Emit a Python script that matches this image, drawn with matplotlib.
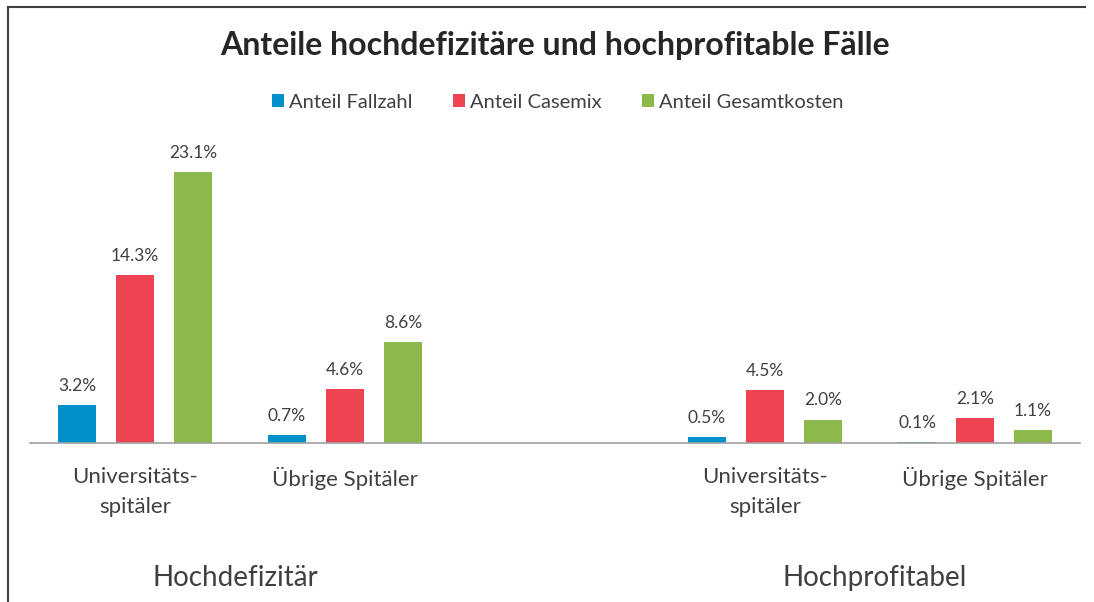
import matplotlib.pyplot as plt
import numpy as np

plt.rcParams['font.family'] = ['Lato', 'DejaVu Sans']

# data
categories = ["Universitäts-\nspitäler", "Übrige Spitäler", "", "Universitäts-\nspitäler", "Übrige Spitäler"]
groups = ["Hochdefizitär", "Hochprofitabel"]
series = ["Anteil Fallzahl", "Anteil Casemix", "Anteil Gesamtkosten"]
fallzahl = [3.2, 0.7, np.nan, 0.5, 0.1]
casemix = [14.3, 4.6, np.nan, 4.5, 2.1]
gesamtkosten = [23.1, 8.6, np.nan, 2.0, 1.1]
colors = ["#0091CA", "#EE4350", "#8CB84C"]

text_col = "#404040"

fig = plt.figure(figsize=(10.94, 6.02), dpi=100)
ax = fig.add_axes([30 / 1094, (602 - 443) / 602, 1050 / 1094, 313 / 602])

x = np.arange(len(categories))
w = 0.181
offs = [-0.276, 0, 0.276]
for vals, off, c, name in zip([fallzahl, casemix, gesamtkosten], offs, colors, series):
    bars = ax.bar(x + off, vals, w, color=c, label=name)
    for xi, v in zip(x + off, vals):
        if np.isnan(v):
            continue
        ax.annotate(f"{v:.1f}%", (xi, v), xytext=(0, 8), textcoords="offset points",
                    ha="center", va="bottom", fontsize=12.5, color=text_col)

ax.set_xlim(-0.5, 4.5)
ax.set_ylim(0, 26.7)
ax.set_yticks([])
ax.set_xticks(x)
ax.set_xticklabels(categories, fontsize=16, color=text_col, linespacing=1.65)
ax.tick_params(axis="x", length=0, pad=17)
for s in ["top", "right", "left"]:
    ax.spines[s].set_visible(False)
ax.spines["bottom"].set_color("#A0A0A0")
ax.spines["bottom"].set_linewidth(1.2)

# group labels
fig.text(235 / 1094, 1 - 578 / 602, groups[0], ha="center", va="center", fontsize=20, color=text_col)
fig.text(875 / 1094, 1 - 578 / 602, groups[1], ha="center", va="center", fontsize=20, color=text_col)

fig.text(555 / 1094, 1 - 45 / 602, "Anteile hochdefizitäre und hochprofitable Fälle",
         ha="center", va="center", fontsize=23, fontweight="bold", color="#262626")

fig.legend(loc="center", bbox_to_anchor=(558 / 1094, 1 - 102 / 602), ncol=3, frameon=False,
           fontsize=14.5, handlelength=0.6, handleheight=0.6, handletextpad=0.25,
           columnspacing=2.0, labelcolor=text_col)

# frame lines
fig.add_artist(plt.Line2D([8 / 1094, 8 / 1094], [0, 1 - 7 / 602], color="#404040", lw=1.5))
fig.add_artist(plt.Line2D([8 / 1094, 1085 / 1094], [1 - 7 / 602, 1 - 7 / 602], color="#404040", lw=1.5))

fig.savefig("out.png", dpi=100)
